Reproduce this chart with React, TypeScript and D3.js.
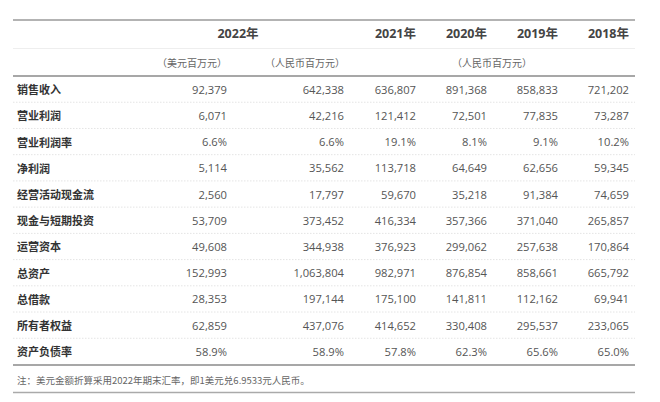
import React from "react";
import * as d3 from "d3";

const years = ["2022年", "2021年", "2020年", "2019年", "2018年"];
const units = ["（美元百万元）", "（人民币百万元）", "（人民币百万元）"];
const rowLabels = [
  "销售收入", "营业利润", "营业利润率", "净利润", "经营活动现金流", "现金与短期投资",
  "运营资本", "总资产", "总借款", "所有者权益", "资产负债率",
];
const usd2022 = ["92,379", "6,071", "6.6%", "5,114", "2,560", "53,709", "49,608", "152,993", "28,353", "62,859", "58.9%"];
const rmb2022 = ["642,338", "42,216", "6.6%", "35,562", "17,797", "373,452", "344,938", "1,063,804", "197,144", "437,076", "58.9%"];
const rmb2021 = ["636,807", "121,412", "19.1%", "113,718", "59,670", "416,334", "376,923", "982,971", "175,100", "414,652", "57.8%"];
const rmb2020 = ["891,368", "72,501", "8.1%", "64,649", "35,218", "357,366", "299,062", "876,854", "141,811", "330,408", "62.3%"];
const rmb2019 = ["858,833", "77,835", "9.1%", "62,656", "91,384", "371,040", "257,638", "858,661", "112,162", "295,537", "65.6%"];
const rmb2018 = ["721,202", "73,287", "10.2%", "59,345", "74,659", "265,857", "170,864", "665,792", "69,941", "233,065", "65.0%"];
const note = "注：美元金额折算采用2022年期末汇率，即1美元兑6.9533元人民币。";

const W = 660, H = 402;
const L = 13, R = 635;
const colRight = [227, 344, 416, 487, 558, 629];
const columns = [usd2022, rmb2022, rmb2021, rmb2020, rmb2019, rmb2018];
const font = "'Open Sans', 'Noto Sans CJK SC', sans-serif";

export default function App() {
  const y = d3.scaleBand<string>().domain(rowLabels).range([76, 364.5]);
  const bw = y.bandwidth();
  return (
    <svg width={W} height={H} style={{ position: "absolute", left: 0, top: 0, background: "#fff" }} fontFamily={font}>
      <rect width={W} height={H} fill="#fff" />
      <line x1={L} x2={R} y1={20} y2={20} stroke="#9a9a9a" strokeWidth={1.6} />
      <text x={238} y={33} textAnchor="middle" dominantBaseline="central" fontSize={12.5} fontWeight={700} fill="#444">{years[0]}</text>
      {years.slice(1).map((t, i) => (
        <text key={t} x={colRight[i + 2]} y={33} textAnchor="end" dominantBaseline="central" fontSize={12.5} fontWeight={700} fill="#444">{t}</text>
      ))}
      <line x1={L} x2={R} y1={48.5} y2={48.5} stroke="#eeeeee" strokeWidth={1} />
      <text x={192} y={63} textAnchor="middle" dominantBaseline="central" fontSize={10} fill="#666">{units[0]}</text>
      <text x={305} y={63} textAnchor="middle" dominantBaseline="central" fontSize={10} fill="#666">{units[1]}</text>
      <text x={492} y={63} textAnchor="middle" dominantBaseline="central" fontSize={10} fill="#666">{units[2]}</text>
      <line x1={L} x2={R} y1={76} y2={76} stroke="#8a8a8a" strokeWidth={1.3} />
      {rowLabels.map((lab, i) => {
        const y0 = y(lab)!;
        const cy = y0 + bw / 2;
        return (
          <g key={lab}>
            {i > 0 && (
              <line x1={L} x2={R} y1={y0} y2={y0} stroke="#e4e4e4" strokeWidth={1} strokeDasharray="1.5 1.5" />
            )}
            <text x={17} y={cy} dominantBaseline="central" fontSize={11} fontWeight={600} fill="#333" fontFamily="'Noto Sans CJK SC', sans-serif">{lab}</text>
            {columns.map((col, j) => (
              <text key={j} x={colRight[j]} y={cy} textAnchor="end" dominantBaseline="central" fontSize={11.2} fill="#555">{col[i]}</text>
            ))}
          </g>
        );
      })}
      <line x1={L} x2={R} y1={365} y2={365} stroke="#8a8a8a" strokeWidth={1.3} />
      <text x={17} y={379.5} dominantBaseline="central" fontSize={9.5} fill="#666" fontFamily="'Noto Sans CJK SC', sans-serif">{note}</text>
      <line x1={L} x2={R} y1={392.5} y2={392.5} stroke="#aaaaaa" strokeWidth={1.3} />
    </svg>
  );
}
